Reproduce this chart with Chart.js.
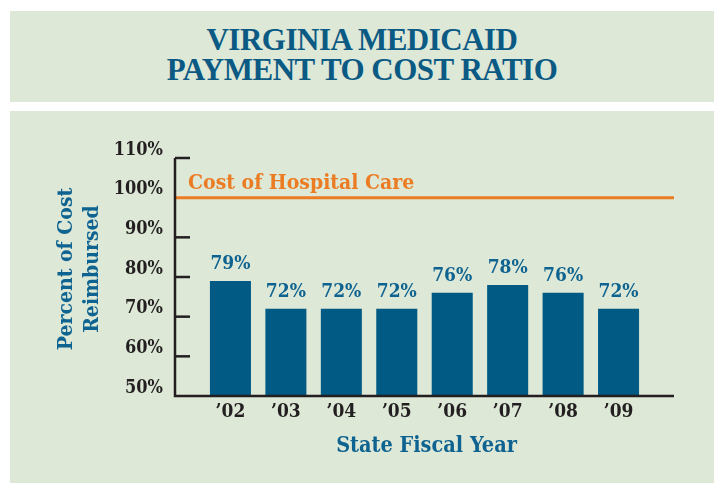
<!DOCTYPE html>
<html>
<head>
<meta charset="utf-8">
<script src="https://cdn.jsdelivr.net/npm/chart.js@4"></script>
<style>
  body { margin: 0; background: #fff; width: 714px; height: 483px; position: relative; overflow: hidden; }
  .panel { position: absolute; background: #dde8d7; }
  #head { left: 10px; top: 11px; width: 704px; height: 91px; }
  #body { left: 10px; top: 111px; width: 704px; height: 372px; }
  #head h1 {
    margin: 0; padding-top: 14px; text-align: center; color: #0b5a84;
    font: bold 31px/30px "Liberation Serif", serif; letter-spacing: -0.5px;
  }
</style>
</head>
<body>
<div class="panel" id="head"><h1>VIRGINIA MEDICAID<br>PAYMENT TO COST RATIO</h1></div>
<div class="panel" id="body"><canvas id="graphContainer" width="704" height="372"></canvas></div>
<script>
// chart data
const years = ["\u201902", "\u201903", "\u201904", "\u201905", "\u201906", "\u201907", "\u201908", "\u201909"];
const ratio = [79, 72, 72, 72, 76, 78, 76, 72];
const costLevel = 100;
const yTicks = [50, 60, 70, 80, 90, 100, 110];

const blue = "#005a84";
const textBlue = "#0f6390";
const orange = "#ec7c23";
const ink = "#231f20";
const labelFont = '"DejaVu Serif Condensed", "DejaVu Serif", serif';

// axis lines, inner tick marks, value labels and titles
const extras = {
  id: "extras",
  afterDraw(chart) {
    const ctx = chart.ctx;
    const x = chart.scales.x, y = chart.scales.y;
    const area = chart.chartArea;
    ctx.save();
    ctx.strokeStyle = ink;
    ctx.lineWidth = 2.5;
    ctx.beginPath();
    ctx.moveTo(area.left, y.getPixelForValue(110));
    ctx.lineTo(area.left, y.getPixelForValue(50));
    ctx.lineTo(x.getPixelForValue(years.length + 1), y.getPixelForValue(50));
    ctx.stroke();
    yTicks.forEach((t) => {
      if (t === 50 || t === costLevel) return;
      const py = y.getPixelForValue(t);
      ctx.beginPath();
      ctx.moveTo(area.left, py);
      ctx.lineTo(area.left + 15, py);
      ctx.stroke();
    });

    ctx.fillStyle = textBlue;
    ctx.font = 'bold 19px ' + labelFont;
    ctx.textAlign = "center";
    ctx.textBaseline = "bottom";
    chart.getDatasetMeta(1).data.forEach((bar, i) => {
      ctx.fillText(ratio[i] + "%", bar.x, bar.y - 7);
    });

    ctx.fillStyle = orange;
    ctx.font = 'bold 21px ' + labelFont;
    ctx.textAlign = "left";
    ctx.fillText("Cost of Hospital Care", area.left + 13, y.getPixelForValue(costLevel) - 4);

    ctx.fillStyle = textBlue;
    ctx.font = 'bold 21.5px ' + labelFont;
    ctx.textAlign = "center";
    ctx.textBaseline = "middle";
    ctx.fillText("State Fiscal Year", (area.left + area.right) / 2 + 2, 335);

    ctx.font = 'bold 21px ' + labelFont;
    ctx.translate(57, 158);
    ctx.rotate(-Math.PI / 2);
    ctx.fillText("Percent of Cost", 0, 0);
    ctx.fillText("Reimbursed", 0, 26);
    ctx.restore();
  },
};

new Chart(document.getElementById("graphContainer").getContext("2d"), {
  type: "bar",
  data: {
    datasets: [
      {
        type: "line",
        data: [{ x: 0, y: costLevel }, { x: years.length + 1, y: costLevel }],
        borderColor: orange,
        borderWidth: 3,
        pointRadius: 0,
        order: 0,
      },
      {
        data: ratio.map((v, i) => ({ x: i + 1, y: v })),
        backgroundColor: blue,
        barPercentage: 0.74,
        categoryPercentage: 1,
        order: 1,
      },
    ],
  },
  plugins: [extras],
  options: {
    responsive: false,
    animation: false,
    layout: { padding: { top: 47, right: 40, left: 0, bottom: 0 } },
    plugins: { legend: { display: false }, tooltip: { enabled: false } },
    scales: {
      x: {
        type: "linear",
        offset: false,
        min: 0,
        max: years.length + 1,
        afterFit: (s) => { s.height = 87; },
        afterBuildTicks: (s) => { s.ticks = years.map((_, i) => ({ value: i + 1 })); },
        grid: { display: false, drawTicks: false, offset: false },
        border: { display: false },
        ticks: {
          padding: 5,
          color: ink,
          font: { family: labelFont, size: 19, weight: "bold" },
          callback: (v) => years[v - 1] || "",
        },
      },
      y: {
        min: 50,
        max: 110,
        afterFit: (s) => { s.width = 165; },
        afterBuildTicks: (s) => { s.ticks = yTicks.map((v) => ({ value: v })); },
        grid: { display: false, drawTicks: false },
        border: { display: false },
        ticks: {
          padding: 12,
          labelOffset: -8,
          color: ink,
          font: { family: labelFont, size: 18, weight: "bold" },
          callback: (v) => v + "%",
        },
      },
    },
  },
});
</script>
</body>
</html>
